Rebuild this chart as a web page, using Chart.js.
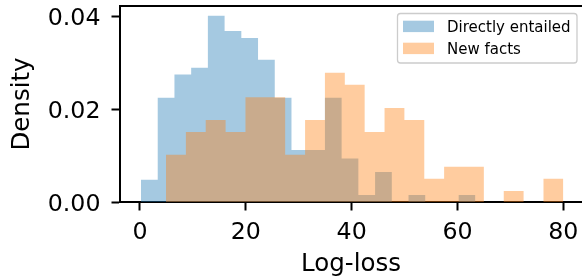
<!DOCTYPE html>
<html><head><meta charset="utf-8">
<script src="https://cdn.jsdelivr.net/npm/chart.js@4/dist/chart.umd.min.js"></script>
<style>html,body{margin:0;padding:0;background:#fff;overflow:hidden}#wrap{width:582px;height:279px;position:relative}</style>
</head><body><div id="wrap"><canvas id="c" width="582" height="279"></canvas></div>
<script>
// ---- data ----
const seriesNames = ['Directly entailed', 'New facts'];
const blueEdges = [0.19, 3.35, 6.51, 9.67, 12.83, 15.99, 19.15, 22.31, 25.47, 28.63, 31.79, 34.95, 38.11, 41.27, 44.43, 47.59, 50.75, 53.91, 57.07, 60.23, 63.39];
const blueDensity = [0.0048, 0.0225, 0.0275, 0.0290, 0.0402, 0.0369, 0.0354, 0.0307, 0.0225, 0.0112, 0.0112, 0.0225, 0.0094, 0.0015, 0.0065, 0, 0.0015, 0, 0, 0.0015];
const orangeEdges = [4.91, 8.67, 12.42, 16.18, 19.93, 23.69, 27.44, 31.20, 34.95, 38.71, 42.46, 46.22, 49.97, 53.73, 57.48, 61.24, 64.99, 68.75, 72.50, 76.26, 80.01];
const orangeDensity = [0.0102, 0.0151, 0.0177, 0.0151, 0.0226, 0.0226, 0.0102, 0.0177, 0.0279, 0.0253, 0.0151, 0.0203, 0.0177, 0.0050, 0.0076, 0.0076, 0, 0.0024, 0, 0.0050];
const xTicks = [0, 20, 40, 60, 80];
const yTicks = [0, 0.02, 0.04];

const FONT = 'DejaVu Sans';
const blueFill = 'rgba(31,119,180,0.4)';
const orangeFill = 'rgba(255,127,14,0.4)';

function stepPoints(edges, vals) {
  const pts = vals.map((v, i) => ({x: edges[i], y: v}));
  pts.push({x: edges[edges.length - 1], y: vals[vals.length - 1]});
  return pts;
}

const topSpine = {
  id: 'topSpine',
  afterDraw(chart) {
    const {ctx, chartArea: a} = chart;
    ctx.save();
    ctx.strokeStyle = '#000'; ctx.lineWidth = 2;
    ctx.beginPath(); ctx.moveTo(a.left - 1, a.top); ctx.lineTo(a.right, a.top); ctx.stroke();
    ctx.restore();
  }
};

const boxLegend = {
  id: 'boxLegend',
  afterDraw(chart) {
    const {ctx} = chart;
    const x0 = 397.5, y0 = 13.5, w = 179.5, h = 49.5, r = 3;
    ctx.save();
    ctx.beginPath();
    ctx.roundRect(x0, y0, w, h, r);
    ctx.fillStyle = 'rgba(255,255,255,0.8)';
    ctx.fill();
    ctx.strokeStyle = '#cccccc'; ctx.lineWidth = 1.3;
    ctx.stroke();
    ctx.font = '15px "' + FONT + '"';
    ctx.textBaseline = 'alphabetic';
    ctx.textAlign = 'left';
    chart.data.datasets.forEach((ds, i) => {
      const yc = 26.4 + i * 22;
      ctx.fillStyle = ds.backgroundColor;
      ctx.fillRect(403, yc - 5.7, 31, 11.4);
      ctx.fillStyle = '#000';
      ctx.fillText(ds.label, 447, yc + 5.6);
    });
    ctx.restore();
  }
};

new Chart(document.getElementById('c'), {
  type: 'line',
  data: {
    datasets: [
      {label: seriesNames[0], data: stepPoints(blueEdges, blueDensity), backgroundColor: blueFill,
       borderWidth: 0, borderColor: 'rgba(0,0,0,0)', fill: 'origin', stepped: true, pointRadius: 0, order: 1},
      {label: seriesNames[1], data: stepPoints(orangeEdges, orangeDensity), backgroundColor: orangeFill,
       borderWidth: 0, borderColor: 'rgba(0,0,0,0)', fill: 'origin', stepped: true, pointRadius: 0, order: 0}
    ]
  },
  options: {
    responsive: false, animation: false, devicePixelRatio: 1,
    layout: {padding: {top: 6, right: 0, left: 0, bottom: 0}},
    plugins: {legend: {display: false}, tooltip: {enabled: false}},
    elements: {line: {tension: 0}},
    scales: {
      x: {
        type: 'linear', min: -3.78, max: 83.54, z: 1,
        afterBuildTicks: s => { s.ticks = xTicks.map(v => ({value: v})); },
        ticks: {font: {family: FONT, size: 23.7}, color: '#000', padding: 8, maxRotation: 0, autoSkip: false,
                callback: v => String(v)},
        grid: {display: true, drawOnChartArea: false, drawTicks: true, tickLength: 8.5, tickWidth: 2, tickColor: '#000', color: '#000'},
        border: {display: true, color: '#000', width: 2},
        title: {display: true, text: 'Log-loss', font: {family: FONT, size: 24.5}, color: '#000', padding: {top: 0, bottom: 0}},
        afterFit: s => { s.height = 77; s.paddingLeft = 0; s.paddingRight = 0; }
      },
      y: {
        type: 'linear', min: 0, max: 0.04231, z: 1,
        afterBuildTicks: s => { s.ticks = yTicks.map(v => ({value: v})); },
        ticks: {font: {family: FONT, size: 23.7}, color: '#000', padding: 11, labelOffset: 2.5,
                callback: v => Number(v).toFixed(2)},
        grid: {display: true, drawOnChartArea: false, drawTicks: true, tickLength: 8.5, tickWidth: 2, tickColor: '#000', color: '#000'},
        border: {display: true, color: '#000', width: 2},
        title: {display: true, text: 'Density', font: {family: FONT, size: 24.5}, color: '#000', padding: {top: 8, bottom: 0}},
        afterFit: s => { s.width = 120; s.paddingTop = 0; s.paddingBottom = 0; }
      }
    }
  },
  plugins: [topSpine, boxLegend]
});
</script></body></html>
